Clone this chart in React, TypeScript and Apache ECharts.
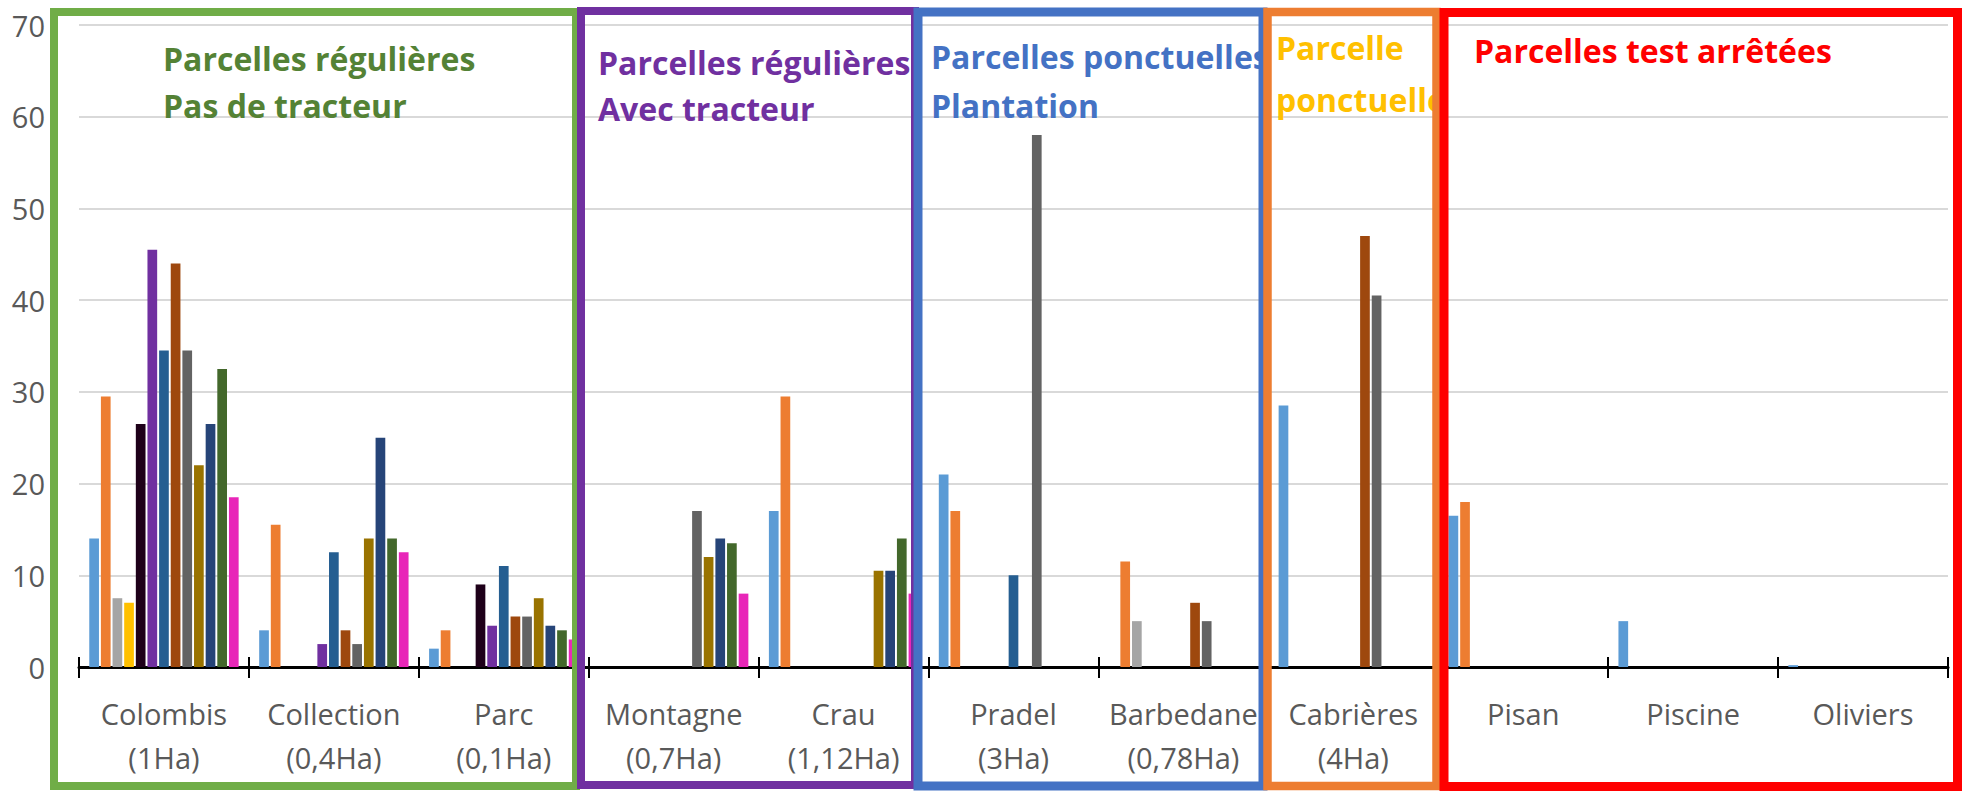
import React, { useEffect, useRef } from "react";
import * as echarts from "echarts";

// Categories (plots)
const categories = [
  "Colombis\n(1Ha)",
  "Collection\n(0,4Ha)",
  "Parc\n(0,1Ha)",
  "Montagne\n(0,7Ha)",
  "Crau\n(1,12Ha)",
  "Pradel\n(3Ha)",
  "Barbedane\n(0,78Ha)",
  "Cabrières\n(4Ha)",
  "Pisan",
  "Piscine",
  "Oliviers",
];

// Series values (one array per bar colour, in cluster order)
const s01LightBlue = [14, 4, 2, 0, 17, 21, 0, 28.5, 16.5, 5, 0.2];
const s02Orange = [29.5, 15.5, 4, 0, 29.5, 17, 11.5, 0, 18, 0, 0];
const s03Gray = [7.5, 0, 0, 0, 0, 0, 5, 0, 0, 0, 0];
const s04Yellow = [7, 0, 0, 0, 0, 0, 0, 0, 0, 0, 0];
const s05Black = [26.5, 0, 9, 0, 0, 0, 0, 0, 0, 0, 0];
const s06Purple = [45.5, 2.5, 4.5, 0, 0, 0, 0, 0, 0, 0, 0];
const s07Blue = [34.5, 12.5, 11, 0, 0, 10, 0, 0, 0, 0, 0];
const s08Brown = [44, 4, 5.5, 0, 0, 0, 7, 47, 0, 0, 0];
const s09DarkGray = [34.5, 2.5, 5.5, 17, 0, 58, 5, 40.5, 0, 0, 0];
const s10Olive = [22, 14, 7.5, 12, 10.5, 0, 0, 0, 0, 0, 0];
const s11Navy = [26.5, 25, 4.5, 14, 10.5, 0, 0, 0, 0, 0, 0];
const s12Green = [32.5, 14, 4, 13.5, 14, 0, 0, 0, 0, 0, 0];
const s13Magenta = [18.5, 12.5, 3, 8, 8, 0, 0, 0, 0, 0, 0];

const seriesData = [
  s01LightBlue, s02Orange, s03Gray, s04Yellow, s05Black, s06Purple, s07Blue,
  s08Brown, s09DarkGray, s10Olive, s11Navy, s12Green, s13Magenta,
];
const seriesColors = [
  "#5B9BD5", "#ED7D31", "#A5A5A5", "#FFC000", "#1E0019", "#7030A0", "#255E91",
  "#9E480E", "#636363", "#997300", "#264478", "#43682B", "#E826B8",
];

// Y axis ticks
const yMin = 0;
const yMax = 70;
const yInterval = 10;

const FONT = '"Open Sans", "Noto Sans", sans-serif';

export default function App() {
  const ref = useRef<HTMLDivElement>(null);

  useEffect(() => {
    if (!ref.current) return;
    const chart = echarts.init(ref.current, null, { renderer: "svg" });

    const series = seriesData.map((d, i) => ({
      type: "bar",
      name: "S" + (i + 1),
      data: d,
      barWidth: 9.7,
      barGap: "20%",
      itemStyle: { color: seriesColors[i] },
      xAxisIndex: 0,
      yAxisIndex: 0,
    }));

    const txt = (text: string, x: number, y: number, fill: string) => ({
      type: "text",
      x,
      y,
      z: 90,
      style: {
        text,
        fill,
        fontFamily: FONT,
        fontWeight: "bold",
        fontSize: 32,
        align: "left",
        verticalAlign: "middle",
      },
    });
    const box = (x1: number, y1: number, x2: number, y2: number, stroke: string, lw: number, z: number) => ({
      type: "rect",
      z,
      shape: { x: x1, y: y1, width: x2 - x1, height: y2 - y1 },
      style: { fill: "none", stroke, lineWidth: lw },
    });

    chart.setOption({
      animation: false,
      backgroundColor: "#ffffff",
      grid: { left: 79, right: 23, top: 25, bottom: 124, containLabel: false },
      xAxis: [
        {
          type: "category",
          data: categories,
          position: "bottom",
          axisLine: { show: true, lineStyle: { color: "#000000", width: 3 } },
          axisTick: { show: true, length: 11, lineStyle: { color: "#000000", width: 2 } },
          axisLabel: {
            interval: 0,
            margin: 24,
            color: "#595959",
            fontFamily: FONT,
            fontSize: 29,
            lineHeight: 44,
          },
          splitLine: { show: false },
        },
        {
          type: "category",
          data: categories,
          position: "bottom",
          axisLine: { show: false },
          axisTick: { show: true, inside: true, length: 10, lineStyle: { color: "#000000", width: 2 } },
          axisLabel: { show: false },
          splitLine: { show: false },
        },
      ],
      yAxis: {
        type: "value",
        min: yMin,
        max: yMax,
        interval: yInterval,
        axisLine: { show: false },
        axisTick: { show: false },
        axisLabel: {
          margin: 34,
          color: "#595959",
          fontFamily: FONT,
          fontSize: 29,
        },
        splitLine: { show: true, lineStyle: { color: "#D9D9D9", width: 2 } },
      },
      series,
      graphic: [
        txt("Parcelles régulières", 163, 58, "#548235"),
        txt("Pas de tracteur", 163, 105, "#548235"),
        txt("Parcelles régulières", 598, 62, "#7030A0"),
        txt("Avec tracteur", 598, 108, "#7030A0"),
        txt("Parcelles ponctuelles", 931, 56, "#4472C4"),
        txt("Plantation", 931, 105, "#4472C4"),
        txt("Parcelle", 1276, 47, "#FFC000"),
        txt("ponctuelle", 1276, 99, "#FFC000"),
        txt("Parcelles test arrêtées", 1474, 50, "#FF0000"),
        box(54, 12, 576, 786, "#70AD47", 8, 100),
        box(581, 11, 915, 785, "#7030A0", 8, 101),
        box(918, 12, 1263, 786, "#4472C4", 9, 102),
        box(1267.5, 12, 1436.5, 786, "#ED7D31", 8.5, 103),
        box(1444, 12.5, 1957.5, 786.5, "#FF0000", 9, 104),
      ],
    });

    return () => chart.dispose();
  }, []);

  return (
    <div
      ref={ref}
      style={{ position: "absolute", left: 0, top: 0, width: 1971, height: 791, background: "#fff" }}
    />
  );
}
